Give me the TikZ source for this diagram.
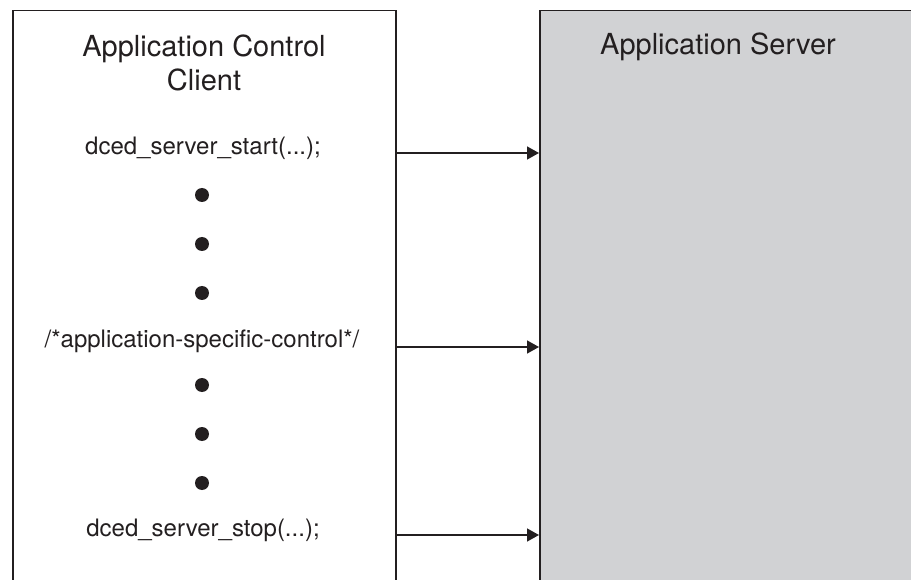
\documentclass[tikz,border=0pt]{standalone}
\usepackage{fontspec}
\setmainfont{TeX Gyre Heros}
\usetikzlibrary{arrows.meta}
\definecolor{ink}{RGB}{35,31,32}
\definecolor{servergray}{RGB}{209,210,212}
\tikzset{
  frame/.style={draw=ink, line width=1.5pt},
  title/.style={font=\fontsize{29}{31}\selectfont, text=ink, align=center, inner sep=0pt},
  code/.style={font=\fontsize{24}{26}\selectfont, text=ink, inner sep=0pt},
  bullet/.style={circle, fill=ink, minimum size=14pt, inner sep=0pt},
  msg/.style={draw=ink, line width=1.5pt, -{Triangle[length=12pt,width=13pt]}}
}
\begin{document}
\begin{tikzpicture}[x=1pt,y=-1pt]
\useasboundingbox (0,0) rectangle (911,580);
\clip (0,0) rectangle (911,580);
% boxes
\node[frame, fill=white, anchor=north west, minimum width=383pt, minimum height=600pt, inner sep=0pt] (client) at (12,10) {};
\node[frame, fill=servergray, anchor=north west, minimum width=400pt, minimum height=600pt, inner sep=0pt] (server) at (539,10) {};
% titles
\node[title] (clienttitle) at (204,63) {Application Control\\[3pt]Client};
\node[title] (servertitle) at (718,47) {Application Server};
% code lines
\node[code] (start) at (203,148) {dced\_server\_start(...);};
\node[code] (ctrl) at (202,341) {/*application-specific-control*/};
\node[code] (stop) at (203,530) {dced\_server\_stop(...);};
% bullets
\foreach \y/\n in {195/d1,244/d2,293/d3,385/d4,434/d5,483/d6}
  \node[bullet] (\n) at (202,\y) {};
% arrow anchors
\coordinate (a1) at (client.east |- 0,153);
\coordinate (b1) at (server.west |- 0,153);
\coordinate (a2) at (client.east |- 0,347);
\coordinate (b2) at (server.west |- 0,347);
\coordinate (a3) at (client.east |- 0,535);
\coordinate (b3) at (server.west |- 0,535);
\draw[msg] (a1) -- (b1);
\draw[msg] (a2) -- (b2);
\draw[msg] (a3) -- (b3);
\end{tikzpicture}
\end{document}
